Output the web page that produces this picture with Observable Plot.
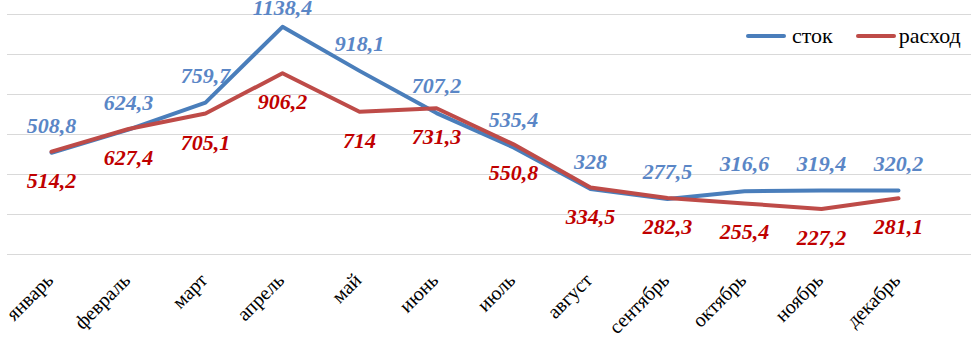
<!DOCTYPE html>
<html>
<head>
<meta charset="utf-8">
<script src="https://cdn.jsdelivr.net/npm/d3@7"></script>
<script src="https://cdn.jsdelivr.net/npm/@observablehq/plot@0.6"></script>
<style>
  body { margin: 0; background: #fff; font-family: "Liberation Serif"; }
  #wrap { position: relative; width: 971px; height: 342px; }
  #legend { position: absolute; left: 746px; top: 23px; display: flex; align-items: center;
            font-family: "Liberation Serif"; font-size: 22px; color: #000; white-space: nowrap; }
  .item { display: flex; align-items: center; }
  .sw { display: inline-block; width: 40px; height: 4px; border-radius: 2px; margin-right: 6px; }
</style>
</head>
<body>
<div id="wrap">
  <div id="chart"></div>
  <div id="legend">
    <div class="item" style="margin-right:23px"><span class="sw" style="background:#4A7EBB"></span>сток</div>
    <div class="item"><span class="sw" style="background:#BE4B48;margin-right:3px"></span>расход</div>
  </div>
</div>
<script>
const months = ["январь","февраль","март","апрель","май","июнь","июль","август","сентябрь","октябрь","ноябрь","декабрь"];
const stok = [508.8, 624.3, 759.7, 1138.4, 918.1, 707.2, 535.4, 328, 277.5, 316.6, 319.4, 320.2];
const raskhod = [514.2, 627.4, 705.1, 906.2, 714, 731.3, 550.8, 334.5, 282.3, 255.4, 227.2, 281.1];
const lineColors = ["#4A7EBB", "#BE4B48"];
const labelColors = ["#5A86C6", "#C00000"];

const rows = months.map((m, i) => ({month: m, stok: stok[i], raskhod: raskhod[i]}));
const fmt = v => String(v).replace(".", ",");
const maxStok = d3.max(stok);
const serif = "Liberation Serif";
const font = {fontFamily: serif, fontSize: 22, fontWeight: "bold", fontStyle: "italic"};

const chart = Plot.plot({
  width: 971,
  height: 342,
  marginTop: 14,
  marginBottom: 88,
  marginLeft: 7,
  marginRight: 0,
  style: {fontFamily: serif},
  x: {type: "point", domain: months, range: [46, 902], padding: 0, axis: null},
  y: {domain: [0, 1200], axis: null},
  marks: [
    Plot.gridY({ticks: d3.range(0, 1201, 200), stroke: "#d9d9d9", strokeOpacity: 1, strokeWidth: 1}),
    Plot.line(rows, {x: "month", y: "stok", stroke: lineColors[0], strokeWidth: 4, strokeLinecap: "round", strokeLinejoin: "round"}),
    Plot.line(rows, {x: "month", y: "raskhod", stroke: lineColors[1], strokeWidth: 4, strokeLinecap: "round", strokeLinejoin: "round"}),
    Plot.text(rows.filter(d => d.stok !== maxStok), {x: "month", y: "stok", text: d => fmt(d.stok), fill: labelColors[0], dy: -27, lineAnchor: "middle", ...font}),
    Plot.text(rows.filter(d => d.stok === maxStok), {x: "month", y: "stok", text: d => fmt(d.stok), fill: labelColors[0], dy: -19, lineAnchor: "middle", ...font}),
    Plot.text(rows, {x: "month", y: "raskhod", text: d => fmt(d.raskhod), fill: labelColors[1], dy: 29, lineAnchor: "middle", ...font}),
    Plot.text(months, {x: d => d, frameAnchor: "bottom", text: d => d, rotate: -45, textAnchor: "end", lineAnchor: "bottom",
      dx: 3, dy: 27, fill: "#000", fontFamily: serif, fontSize: 20})
  ]
});
document.getElementById("chart").appendChild(chart);
</script>
</body>
</html>
